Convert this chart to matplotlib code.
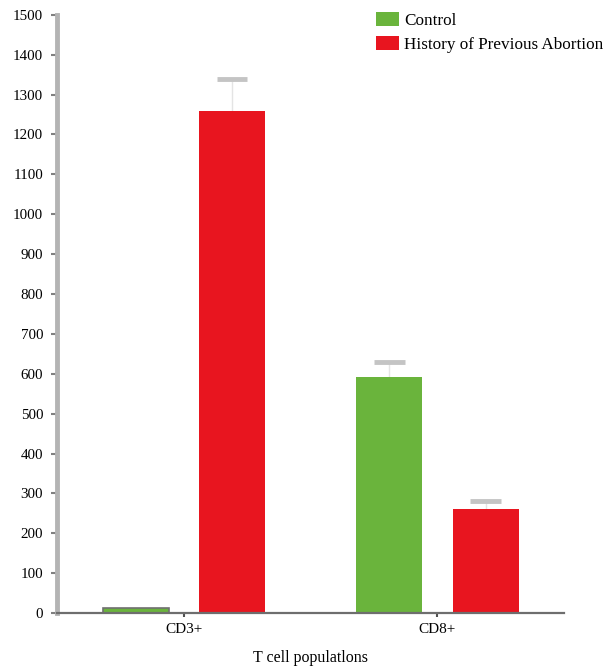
import matplotlib
matplotlib.use("Agg")
import matplotlib.pyplot as plt
from matplotlib.patches import Patch
import numpy as np

categories = ["CD3+", "CD8+"]
groups = ["Control", "History of Previous Abortion"]
control_values = [12, 591]
hpa_values = [1259, 261]
control_err = [0, 39]
hpa_err = [81, 20]
y_ticks = list(range(0, 1501, 100))

colors = {"Control": "#6ab43c", "History of Previous Abortion": "#e8151f"}

plt.rcParams["font.family"] = ["Liberation Serif", "DejaVu Serif"]

fig = plt.figure(figsize=(6.14, 6.7), dpi=100)
ax = fig.add_axes([0.093, 0.085, 0.826, 0.893])

x = np.arange(len(categories))
width = 0.26
offset = 0.19
cap_half = 0.06

ax.bar(x - offset, control_values, width, color=colors["Control"],
       edgecolor=["#707070", "none"], linewidth=1.2, zorder=2)
ax.bar(x + offset, hpa_values, width, color=colors["History of Previous Abortion"],
       edgecolor="none", zorder=2)

# upper error caps with faint stems
for xs, vals, errs in [(x - offset, control_values, control_err),
                       (x + offset, hpa_values, hpa_err)]:
    for xi, v, e in zip(xs, vals, errs):
        if e > 0:
            ax.vlines(xi, v, v + e, color="#e4e4e4", linewidth=1.0, zorder=1)
            ax.hlines(v + e, xi - cap_half, xi + cap_half, color="#c4c4c4",
                      linewidth=3.5, zorder=1)

ax.set_xlim(-0.5, 1.5)
ax.set_ylim(0, 1500)
ax.set_yticks(y_ticks)
ax.set_yticklabels([str(t) for t in y_ticks], fontsize=10.8)
ax.set_xticks(x)
ax.set_xticklabels(categories, fontsize=11)
ax.set_xlabel("T cell populatlons", fontsize=11.5, labelpad=10)

for side in ["top", "right"]:
    ax.spines[side].set_visible(False)
ax.spines["left"].set_color("#b4b4b4")
ax.spines["left"].set_linewidth(3.5)
ax.spines["bottom"].set_color("#6e6e6e")
ax.spines["bottom"].set_linewidth(1.6)
ax.tick_params(axis="y", length=4, width=1.5, color="#808080", pad=6)
ax.tick_params(axis="x", length=3, width=1.5, color="#505050", pad=4)

handles = [Patch(facecolor=colors[g], edgecolor="none") for g in groups]
leg = ax.legend(handles, groups, loc="upper right", bbox_to_anchor=(1.09, 1.016),
                frameon=False, fontsize=12.3, handlelength=1.3, handleheight=0.9,
                handletextpad=0.3, labelspacing=0.4, borderaxespad=0)

fig.savefig("out.png", dpi=100, facecolor="white")
